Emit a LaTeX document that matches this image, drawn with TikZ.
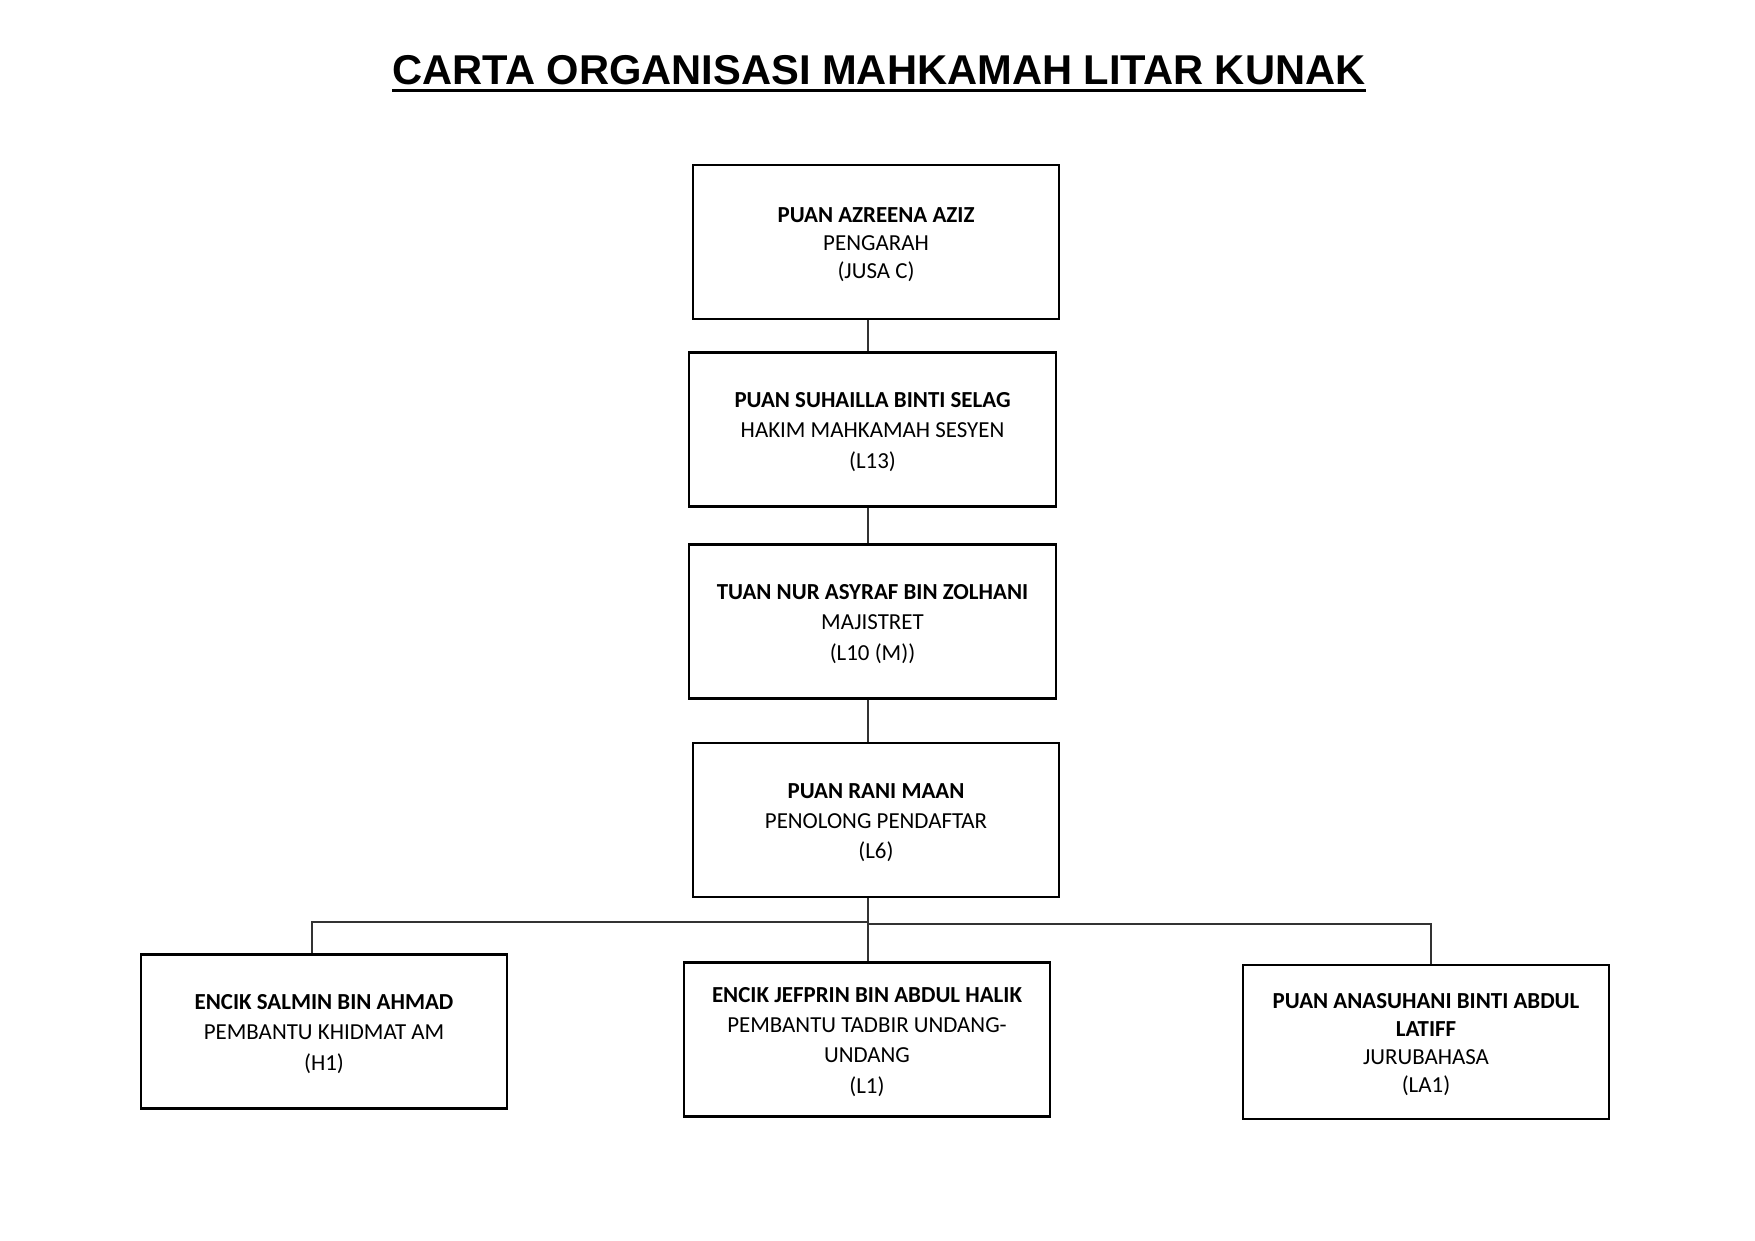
\documentclass[tikz,border=0pt]{standalone}
\usepackage{fontspec}
\setmainfont{Carlito}
\newfontfamily\titlefont{Liberation Sans}
\newcommand{\toppad}{\rule{0pt}{9.5pt}}
\begin{document}
\begin{tikzpicture}[x=0.48pt,y=-0.48pt,
  box/.style={draw=black, line width=1.1pt, rectangle, minimum width=176pt, minimum height=73.8pt, inner sep=0pt, align=center, font=\fontsize{11}{14.5}\selectfont},
  tight/.style={font=\fontsize{11}{13.4}\selectfont},
  link/.style={draw=black!80, line width=0.55pt}]
\useasboundingbox (0,0) rectangle (1755,1241);
\node[font=\titlefont\bfseries\fontsize{20}{24}\selectfont, inner sep=0pt, anchor=base] (title) at (879,84) {CARTA ORGANISASI MAHKAMAH LITAR KUNAK};
\draw[line width=1.7pt] ([yshift=-3.1pt]title.base west) -- ([yshift=-3.1pt]title.base east);

\node[box, tight] (b1) at (876,242) {\toppad\textbf{PUAN AZREENA AZIZ}\\PENGARAH\\(JUSA C)};
\node[box] (b2) at (872.5,429.5) {\toppad\textbf{PUAN SUHAILLA BINTI SELAG}\\HAKIM MAHKAMAH SESYEN\\(L13)};
\node[box] (b3) at (872.5,621.5) {\toppad\textbf{TUAN NUR ASYRAF BIN ZOLHANI}\\MAJISTRET\\(L10 (M))};
\node[box] (b4) at (876,820) {\toppad\textbf{PUAN RANI MAAN}\\PENOLONG PENDAFTAR\\(L6)};
\node[box] (b5) at (324,1031.5) {\toppad\textbf{ENCIK SALMIN BIN AHMAD}\\PEMBANTU KHIDMAT AM\\(H1)};
\node[box] (b6) at (867,1039.5) {\toppad\textbf{ENCIK JEFPRIN BIN ABDUL HALIK}\\PEMBANTU TADBIR UNDANG-\\UNDANG\\(L1)};
\node[box, tight] (b7) at (1426,1042) {\toppad\textbf{PUAN ANASUHANI BINTI ABDUL}\\\textbf{LATIFF}\\JURUBAHASA\\(LA1)};

\coordinate (spine) at (868,0);
\coordinate (busL) at (312,922);
\coordinate (busR) at (1431,924);
\draw[link] (b1.south -| spine) -- (b2.north -| spine);
\draw[link] (b2.south -| spine) -- (b3.north -| spine);
\draw[link] (b3.south -| spine) -- (b4.north -| spine);
\draw[link] (b4.south -| spine) -- (b6.north -| spine);
\draw[link] (spine |- busL) -- (busL) -- (b5.north -| busL);
\draw[link] (spine |- busR) -- (busR) -- (b7.north -| busR);
\end{tikzpicture}
\end{document}
